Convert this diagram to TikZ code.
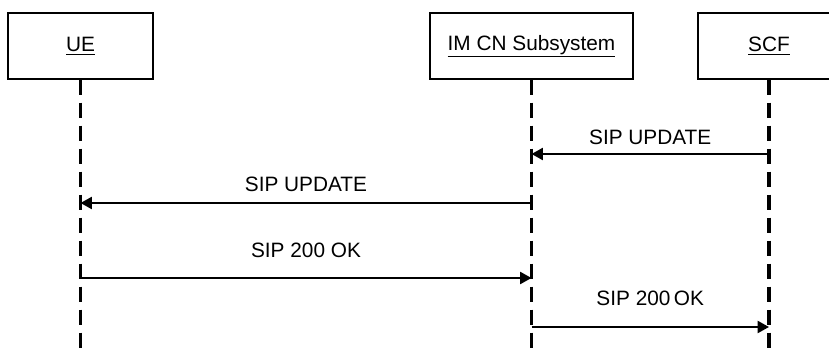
\documentclass[tikz,border=0pt]{standalone}
\usepackage{fontspec}
\setmainfont{Liberation Sans}
\usetikzlibrary{arrows.meta}
\begin{document}
\begin{tikzpicture}[x=0.75pt,y=-0.75pt,
  entity/.style={draw=black,line width=1.1pt,minimum height=66*0.75pt,inner sep=0pt,
    font=\fontsize{15.6}{18}\selectfont},
  lifeline/.style={line width=2.4pt,dash pattern=on 11.25pt off 6pt},
  msg/.style={line width=1.5pt,-{Triangle[length=8.5pt,width=9pt]}},
  lbl/.style={font=\fontsize{15.6}{18}\selectfont,inner sep=0pt}]
\clip (0,0) rectangle (829,353);
\fill[white] (0,0) rectangle (829,353);
\node[entity,minimum width=145*0.75pt] (ue) at (80.5,46) {\underline{UE}};
\node[entity,minimum width=203*0.75pt] (ims) at (531.5,46) {\underline{IM CN Subsystem}};
\node[entity,minimum width=142*0.75pt] (scf) at (769,46) {\underline{SCF}};
\coordinate (ueend) at (80.5,360);
\coordinate (imsend) at (531.5,360);
\coordinate (scfend) at (769,360);
\draw[lifeline] (ue.south) -- (ueend);
\draw[lifeline] (ims.south) -- (imsend);
\draw[lifeline] (scf.south) -- (scfend);
% messages
\coordinate (s1) at (769,154); \coordinate (i1) at (531.5,154);
\coordinate (i2) at (531.5,203); \coordinate (u2) at (80.5,203);
\coordinate (u3) at (80.5,278); \coordinate (i3) at (531.5,278);
\coordinate (i4) at (531.5,327); \coordinate (s4) at (769,327);
\draw[msg] (s1) -- node[lbl,midway,yshift=17*0.75pt] {SIP UPDATE} (i1);
\draw[msg] (i2) -- node[lbl,midway,yshift=19*0.75pt] {SIP UPDATE} (u2);
\draw[msg] (u3) -- node[lbl,midway,yshift=28*0.75pt] {SIP 200 OK} (i3);
\draw[msg] (i4) -- node[lbl,midway,yshift=29*0.75pt] {SIP 200\,OK} (s4);
\end{tikzpicture}
\end{document}
